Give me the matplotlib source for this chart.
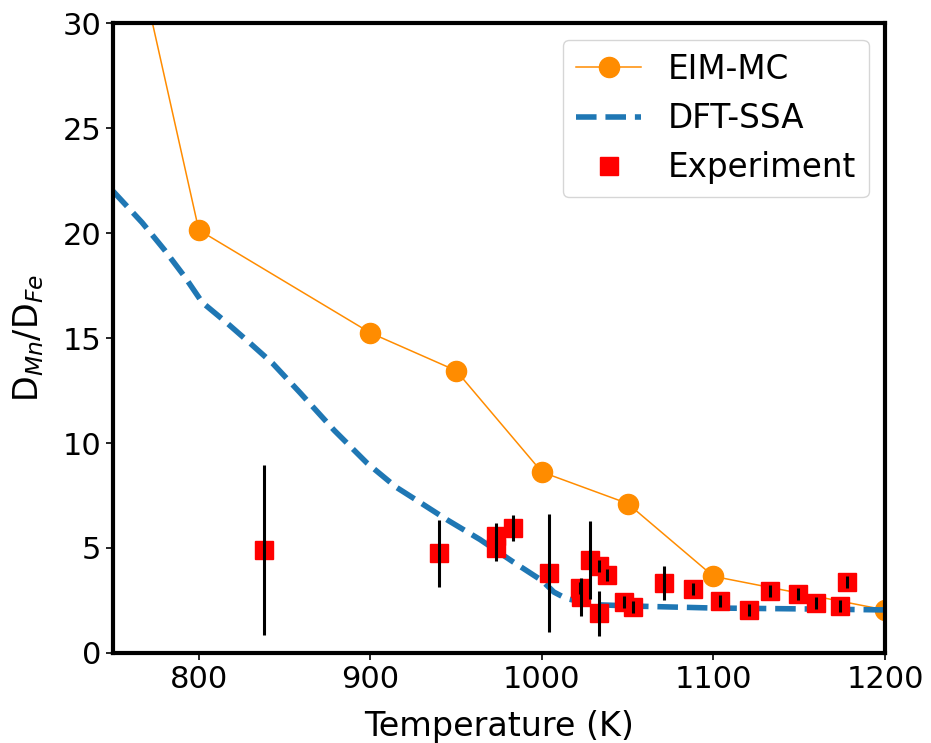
import numpy as np
import matplotlib
matplotlib.use("Agg")
import matplotlib.pyplot as plt

# EIM-MC kinetic Monte Carlo results
T_mc = [750, 800, 900, 950, 1000, 1050, 1100, 1200]
D_mc = [38.4, 20.15, 15.25, 13.45, 8.62, 7.12, 3.65, 2.05]

# DFT self-consistent approach
T_dft = [750, 767, 780, 792, 802, 816, 830, 843, 859, 879, 898, 915, 925, 945,
         964, 983, 1000, 1007, 1014, 1030, 1060, 1100, 1150, 1200]
D_dft = [22.0, 20.5, 19.2, 17.9, 16.7, 15.75, 14.75, 13.8, 12.4, 10.6, 9.05, 7.9,
         7.38, 6.33, 5.4, 4.35, 3.45, 2.9, 2.6, 2.3, 2.22, 2.14, 2.1, 2.05]

# measured ratios with their uncertainties
T_exp = [838, 940, 973, 973, 983, 1004, 1022, 1023, 1028, 1033, 1033, 1038,
         1048, 1053, 1071, 1088, 1104, 1121, 1133, 1149, 1160, 1174, 1178]
D_exp = [4.9, 4.75, 5.57, 5.0, 5.95, 3.8, 3.1, 2.67, 4.43, 4.14, 1.9, 3.71,
         2.43, 2.19, 3.33, 3.05, 2.48, 2.05, 2.95, 2.81, 2.38, 2.24, 3.38]
err_exp = [4.05, 1.6, 0.6, 0.6, 0.62, 2.8, 0.3, 0.9, 1.86, 0.3, 1.07, 0.3,
           0.3, 0.3, 0.83, 0.3, 0.3, 0.3, 0.3, 0.3, 0.3, 0.3, 0.3]

fig = plt.figure(figsize=(9.31, 7.43), dpi=100)
ax = fig.add_axes([0.1214, 0.1212, 0.8292, 0.8475])

ax.plot(T_mc, D_mc, "-o", color="darkorange", lw=1.1, ms=14.5, label="EIM-MC")
ax.plot(T_dft, D_dft, "--", color="#1f77b4", lw=4, label="DFT-SSA")
ax.plot(T_exp, D_exp, "s", color="red", ms=13, ls="none", label="Experiment")
ax.errorbar(T_exp, D_exp, yerr=err_exp, fmt="none", ecolor="k", elinewidth=2.2, capsize=0)

ax.set_xlim(750, 1200)
ax.set_ylim(0, 30)
ax.set_xticks([800, 900, 1000, 1100, 1200])
ax.set_yticks([0, 5, 10, 15, 20, 25, 30])
for s in ax.spines.values():
    s.set_linewidth(3)
ax.tick_params(labelsize=22, width=1.2, length=5)
ax.set_xlabel("Temperature (K)", fontsize=24, labelpad=12)
ax.set_ylabel(r"D$_{Mn}$/D$_{Fe}$", fontsize=24, labelpad=12)
ax.legend(loc="upper right", fontsize=23.5)

fig.savefig("out.png", dpi=100)
